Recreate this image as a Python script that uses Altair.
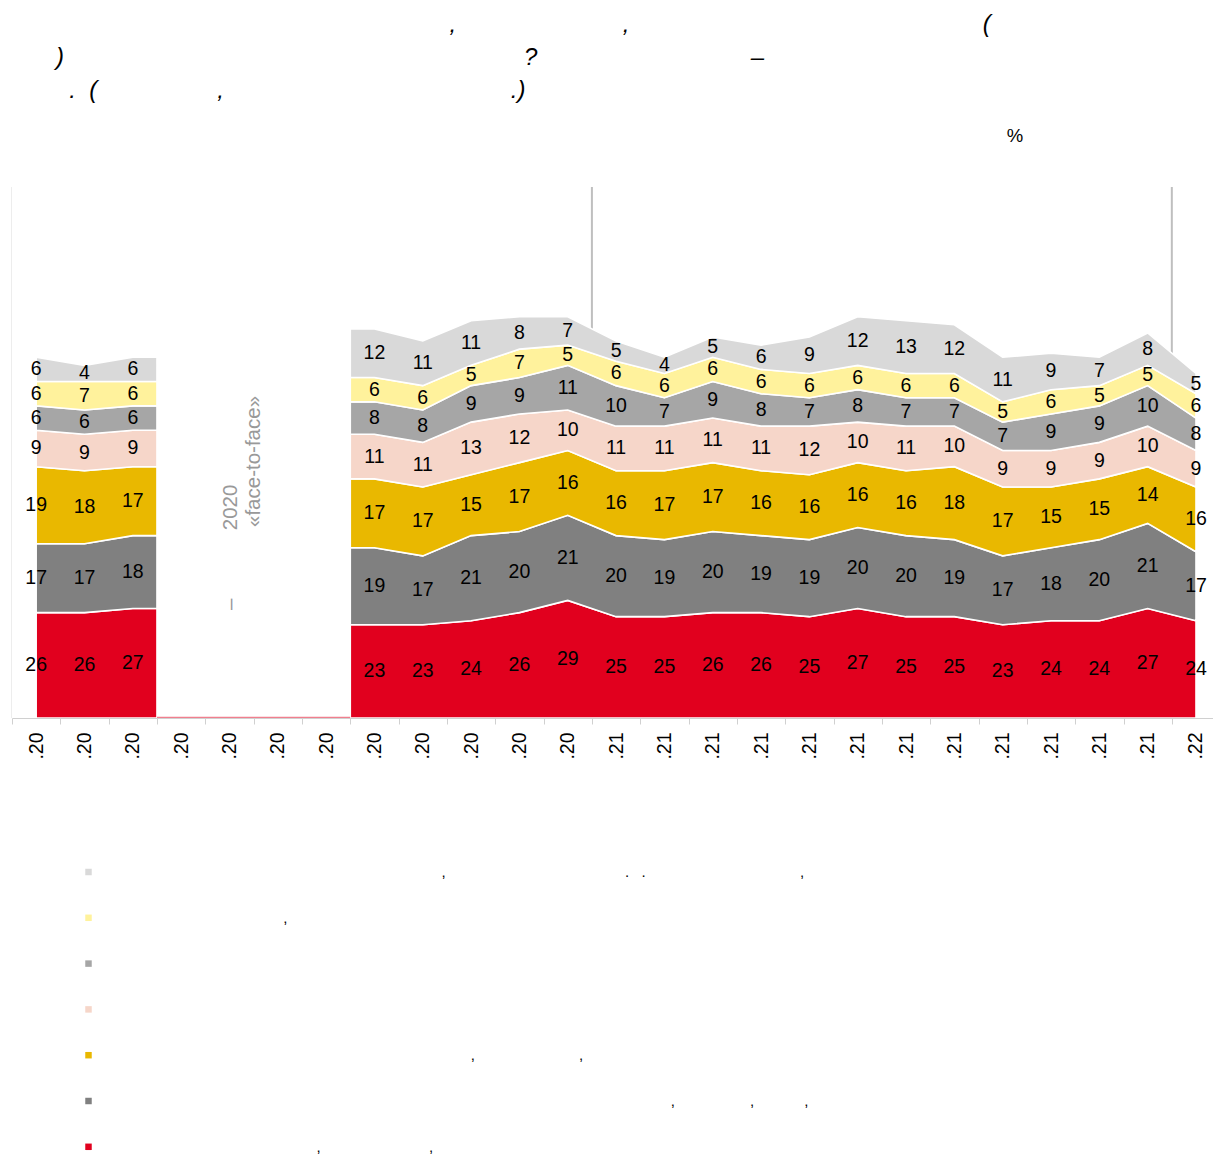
import json
import pandas as pd
import altair as alt

NB = "\u00a0"
ZW = "\u200b"  # keeps leading no-break spaces from being trimmed


def nb(n):
    return NB * n


# ---------------- data ----------------
MONTH_LABELS = [".20"] * 12 + [".21"] * 12 + [".22"]

# stacked bottom -> top; None = no face-to-face survey
red = [26, 26, 27, None, None, None, None, 23, 23, 24, 26, 29,
       25, 25, 26, 26, 25, 27, 25, 25, 23, 24, 24, 27, 24]
dgray = [17, 17, 18, None, None, None, None, 19, 17, 21, 20, 21,
         20, 19, 20, 19, 19, 20, 20, 19, 17, 18, 20, 21, 17]
gold = [19, 18, 17, None, None, None, None, 17, 17, 15, 17, 16,
        16, 17, 17, 16, 16, 16, 16, 18, 17, 15, 15, 14, 16]
pink = [9, 9, 9, None, None, None, None, 11, 11, 13, 12, 10,
        11, 11, 11, 11, 12, 10, 11, 10, 9, 9, 9, 10, 9]
mgray = [6, 6, 6, None, None, None, None, 8, 8, 9, 9, 11,
         10, 7, 9, 8, 7, 8, 7, 7, 7, 9, 9, 10, 8]
yellow = [6, 7, 6, None, None, None, None, 6, 6, 5, 7, 5,
          6, 6, 6, 6, 6, 6, 6, 6, 5, 6, 5, 5, 6]
lgray = [6, 4, 6, None, None, None, None, 12, 11, 11, 8, 7,
         5, 4, 5, 6, 9, 12, 13, 12, 11, 9, 7, 8, 5]

# legend labels (top -> bottom in legend)
LBL_LGRAY = ZW + nb(81) + "," + nb(43) + "." + nb(3) + "." + nb(37) + "," + nb(10)
LBL_YELLOW = ZW + nb(43) + "," + nb(20)
LBL_MGRAY = ZW + nb(60)
LBL_PINK = ZW + nb(55)
LBL_GOLD = ZW + nb(88) + "," + nb(25) + "," + nb(10)
LBL_DGRAY = ZW + nb(136) + "," + nb(18) + "," + nb(12) + "," + nb(5)
LBL_RED = ZW + nb(51) + "," + nb(26) + "," + nb(10)

LEGEND_LABELS = [LBL_LGRAY, LBL_YELLOW, LBL_MGRAY, LBL_PINK, LBL_GOLD, LBL_DGRAY, LBL_RED]
COLORS = ["#D9D9D9", "#FFF29C", "#A6A6A6", "#F6D6C9", "#E9B800", "#808080", "#E1001E"]

STACK = [(LBL_RED, red), (LBL_DGRAY, dgray), (LBL_GOLD, gold), (LBL_PINK, pink),
         (LBL_MGRAY, mgray), (LBL_YELLOW, yellow), (LBL_LGRAY, lgray)]

TITLE_LINES = [
    ZW + nb(59) + "," + nb(25) + "," + nb(53) + "(",
    ")" + nb(69) + "?" + nb(32) + "\u2013",
    ZW + nb(2) + "." + nb(2) + "(" + nb(18) + "," + nb(43) + ".)",
]
UNIT_TEXT = "%"
GAP_LINE1 = "\u2013" + nb(12) + "2020"
GAP_LINE2 = "\u00abface-to-face\u00bb"

# ---------------- build tables ----------------
n = len(MONTH_LABELS)
present = [v is not None for v in red]
blocks = []
i = 0
while i < n:
    if present[i]:
        s = i
        while i + 1 < n and present[i + 1]:
            i += 1
        blocks.append((s, i))
    i += 1

area_rows, text_rows, gap_rows = [], [], []
for b, (s, e) in enumerate(blocks):
    pts = []
    if s > 0:
        pts.append((s - 0.5, s))
    pts += [(j, j) for j in range(s, e + 1)]
    if e < n - 1:
        pts.append((e + 0.5, e))
    for xpos, src in pts:
        base = 0
        for k, (name, vals) in enumerate(STACK):
            v = vals[src]
            area_rows.append(dict(x=xpos, y0=base, y1=base + v, series=name, k=k, block=b))
            if xpos == src:
                text_rows.append(dict(x=xpos, ymid=base + v / 2, label=str(v)))
            base += v
for (s0, e0), (s1, e1) in zip(blocks[:-1], blocks[1:]):
    gap_rows.append(dict(x0=e0 + 0.5, x1=s1 - 0.5))

sep_rows = [dict(x=j - 0.5) for j in range(1, n) if MONTH_LABELS[j] != MONTH_LABELS[j - 1]]

df_area = pd.DataFrame(area_rows)
df_text = pd.DataFrame(text_rows)
df_gap = pd.DataFrame(gap_rows)
df_sep = pd.DataFrame(sep_rows)
df_one = pd.DataFrame({"k": [0]})

# ---------------- layout ----------------
W, H = 1201, 531
YMAX = 131
XMIN, XMAX = -0.5, n - 1 + 0.352
STEP = W / (XMAX - XMIN)
FONT = "Liberation Sans"

xscale = alt.Scale(domain=[XMIN, XMAX], nice=False, zero=False)
yscale = alt.Scale(domain=[0, YMAX], nice=False)

xaxis = alt.Axis(
    values=list(range(n)),
    labelExpr=json.dumps(MONTH_LABELS) + "[datum.value]",
    labelAngle=270, labelFontSize=19.5, labelColor="#000000", labelPadding=8,
    tickOffset=-STEP / 2, labelOffset=STEP / 2, tickSize=6,
    tickColor="#D0D0D0", domainColor="#D0D0D0", grid=False, title=None,
    labelOverlap=False, labelFlush=False, zindex=1, orient="bottom",
)
yaxis = alt.Axis(labels=False, ticks=False, grid=False, title=None,
                 domain=False, orient="left")

sep = alt.Chart(df_sep).mark_rule(color="#BFBFBF", strokeWidth=2).encode(
    x=alt.X("x:Q", scale=xscale, axis=xaxis),
    y=alt.value(0), y2=alt.value(H),
)

areas = alt.Chart(df_area).mark_area(stroke="white", strokeWidth=1.6, opacity=1).encode(
    x=alt.X("x:Q", scale=xscale, axis=xaxis),
    y=alt.Y("y1:Q", scale=yscale, axis=yaxis),
    y2="y0:Q",
    color=alt.Color(
        "series:N",
        scale=alt.Scale(domain=LEGEND_LABELS, range=COLORS),
        legend=alt.Legend(
            orient="none", legendX=69, legendY=677.5, direction="vertical",
            symbolType="square", symbolSize=42, symbolStrokeWidth=0, symbolOpacity=1,
            labelFontSize=15, labelOffset=8, rowPadding=29.8, labelLimit=3000,
            title=None, padding=0, labelColor="#000000", labelFont=FONT,
        ),
    ),
    detail="block:N",
)

# thin red baseline across the months without data
gaprule = alt.Chart(df_gap).mark_rule(color="#E1001E", strokeWidth=1.5, opacity=0.5).encode(
    x=alt.X("x0:Q", scale=xscale, axis=xaxis), x2="x1:Q",
    y=alt.value(H - 0.5),
)

labels = alt.Chart(df_text).mark_text(fontSize=19.5, color="#000000", baseline="middle", align="center", font=FONT).encode(
    x=alt.X("x:Q", scale=xscale, axis=xaxis),
    y=alt.Y("ymid:Q", scale=yscale, axis=yaxis),
    text="label:N",
)

# faint left frame line
frame = alt.Chart(df_one).mark_rule(color="#EDEDED", strokeWidth=1).encode(
    x=alt.value(-0.5), y=alt.value(0), y2=alt.value(H),
)

title_txt = alt.Chart(df_one).mark_text(
    fontSize=24, fontStyle="italic", align="left", baseline="alphabetic",
    lineHeight=33.3, color="#000000", font=FONT,
).encode(x=alt.value(44), y=alt.value(-155.3), text=alt.value(TITLE_LINES))

pct_txt = alt.Chart(df_one).mark_text(
    fontSize=18.5, align="center", baseline="alphabetic", color="#000000", font=FONT,
).encode(x=alt.value(1003), y=alt.value(-45.3), text=alt.value(UNIT_TEXT))

gap1 = alt.Chart(df_one).mark_text(
    fontSize=20.5, angle=270, align="left", baseline="alphabetic", color="#999999", font=FONT,
).encode(x=alt.value(225), y=alt.value(423), text=alt.value(GAP_LINE1))

gap2 = alt.Chart(df_one).mark_text(
    fontSize=20.5, angle=270, align="left", baseline="alphabetic", color="#999999", font=FONT,
).encode(x=alt.value(248), y=alt.value(340), text=alt.value(GAP_LINE2))

chart = alt.layer(frame, sep, areas, gaprule, labels, title_txt, pct_txt, gap1, gap2).properties(
    width=W, height=H,
    padding={"left": 4, "top": 179, "right": 0, "bottom": 437},
    autosize=alt.AutoSizeParams(type="none"),
).configure(font=FONT).configure_view(stroke=None, strokeWidth=0)

chart.save("out.html", embed_options={"renderer": "svg", "actions": False})
